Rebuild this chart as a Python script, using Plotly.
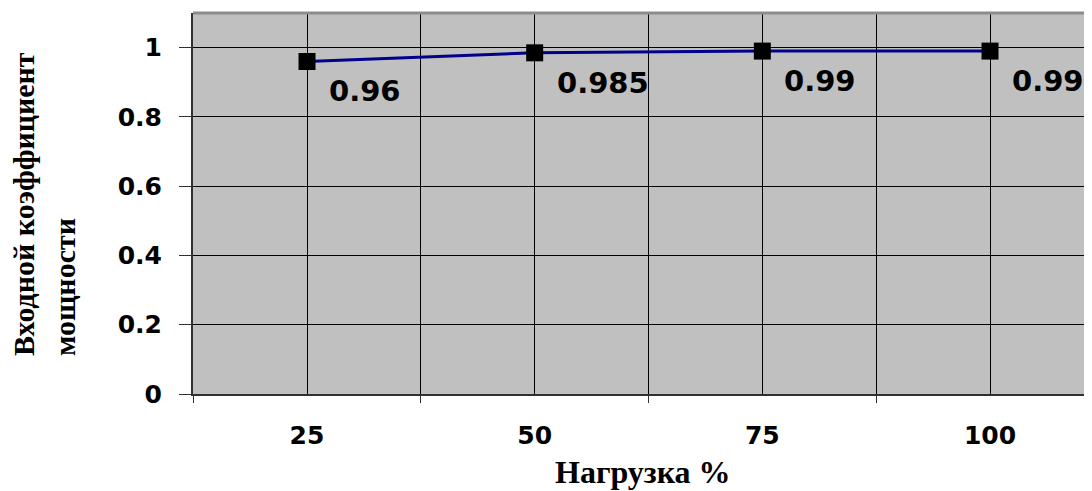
import plotly.graph_objects as go

# нагрузка, % и входной коэффициент мощности
load_pct = [25, 50, 75, 100]
power_factor = [0.96, 0.985, 0.99, 0.99]
label_text = ["0.96", "0.985", "0.99", "0.99"]
y_ticks = [0, 0.2, 0.4, 0.6, 0.8, 1]
y_tick_text = ["0", "0.2", "0.4", "0.6", "0.8", "1"]
# границы категорий (отметки на оси X)
x_bounds = [12.5, 37.5, 62.5, 87.5]

sans = dict(family="DejaVu Sans", weight="bold", color="black")
serif = dict(family="Liberation Serif", weight="bold", color="black")

fig = go.Figure()
fig.add_trace(go.Scatter(
    x=load_pct, y=power_factor, mode="lines+markers",
    line=dict(color="#00008b", width=3),
    marker=dict(symbol="square", size=17, color="black"),
    showlegend=False, hoverinfo="skip",
))
# невидимая трасса, чтобы активировать вторую ось X
fig.add_trace(go.Scatter(x=load_pct, y=power_factor, xaxis="x2", mode="none",
                         showlegend=False, hoverinfo="skip"))

for x, y, t in zip(load_pct, power_factor, label_text):
    fig.add_annotation(x=x, y=y, text=t, showarrow=False, xanchor="left",
                       yanchor="middle", xshift=20, yshift=-30,
                       font=dict(size=29, **sans))

fig.add_annotation(x=0, y=0, xref="paper", yref="paper", text="Входной коэффициент",
                   textangle=-90, showarrow=False, xanchor="center", yanchor="bottom",
                   xshift=-170, yshift=36, font=dict(size=30, **serif))
fig.add_annotation(x=0, y=0, xref="paper", yref="paper", text="мощности",
                   textangle=-90, showarrow=False, xanchor="center", yanchor="bottom",
                   xshift=-129, yshift=36, font=dict(size=30, **serif))
fig.add_annotation(x=0.5, y=0, xref="paper", yref="paper", text="Нагрузка %",
                   showarrow=False, xanchor="center", yanchor="middle",
                   yshift=-78, font=dict(size=32, **serif))

fig.add_shape(type="line", xref="paper", yref="paper", x0=0, x1=1, y0=1, y1=1,
              line=dict(color="#8c8c8c", width=3))

# страница имеет отступ 8px, поэтому фигура чуть меньше окна
fig.update_layout(
    width=1084, height=483,
    margin=dict(l=185, r=0, t=5, b=97),
    paper_bgcolor="white", plot_bgcolor="#c0c0c0",
    xaxis=dict(range=[12.48, 111.2], tickvals=load_pct, ticktext=[str(v) for v in load_pct],
               ticks="", showgrid=True, gridcolor="black", gridwidth=1,
               showline=True, linecolor="#303030", linewidth=2,
               ticklabelstandoff=18, tickfont=dict(size=25, **sans), zeroline=False),
    xaxis2=dict(range=[12.48, 111.2], overlaying="x", side="bottom", anchor="y",
                tickvals=x_bounds, ticktext=["" for _ in x_bounds],
                ticks="outside", ticklen=8, tickcolor="#303030", tickwidth=1,
                showgrid=True, gridcolor="black", gridwidth=1, zeroline=False),
    yaxis=dict(range=[0, 1.1], tickvals=y_ticks, ticktext=y_tick_text,
               ticks="outside", ticklen=12, tickcolor="#303030", tickwidth=1,
               showgrid=True, gridcolor="black", gridwidth=1, zeroline=False,
               showline=True, linecolor="#303030", linewidth=2,
               ticklabelstandoff=12, tickfont=dict(size=25, **sans)),
)

fig.write_html("out.html")
